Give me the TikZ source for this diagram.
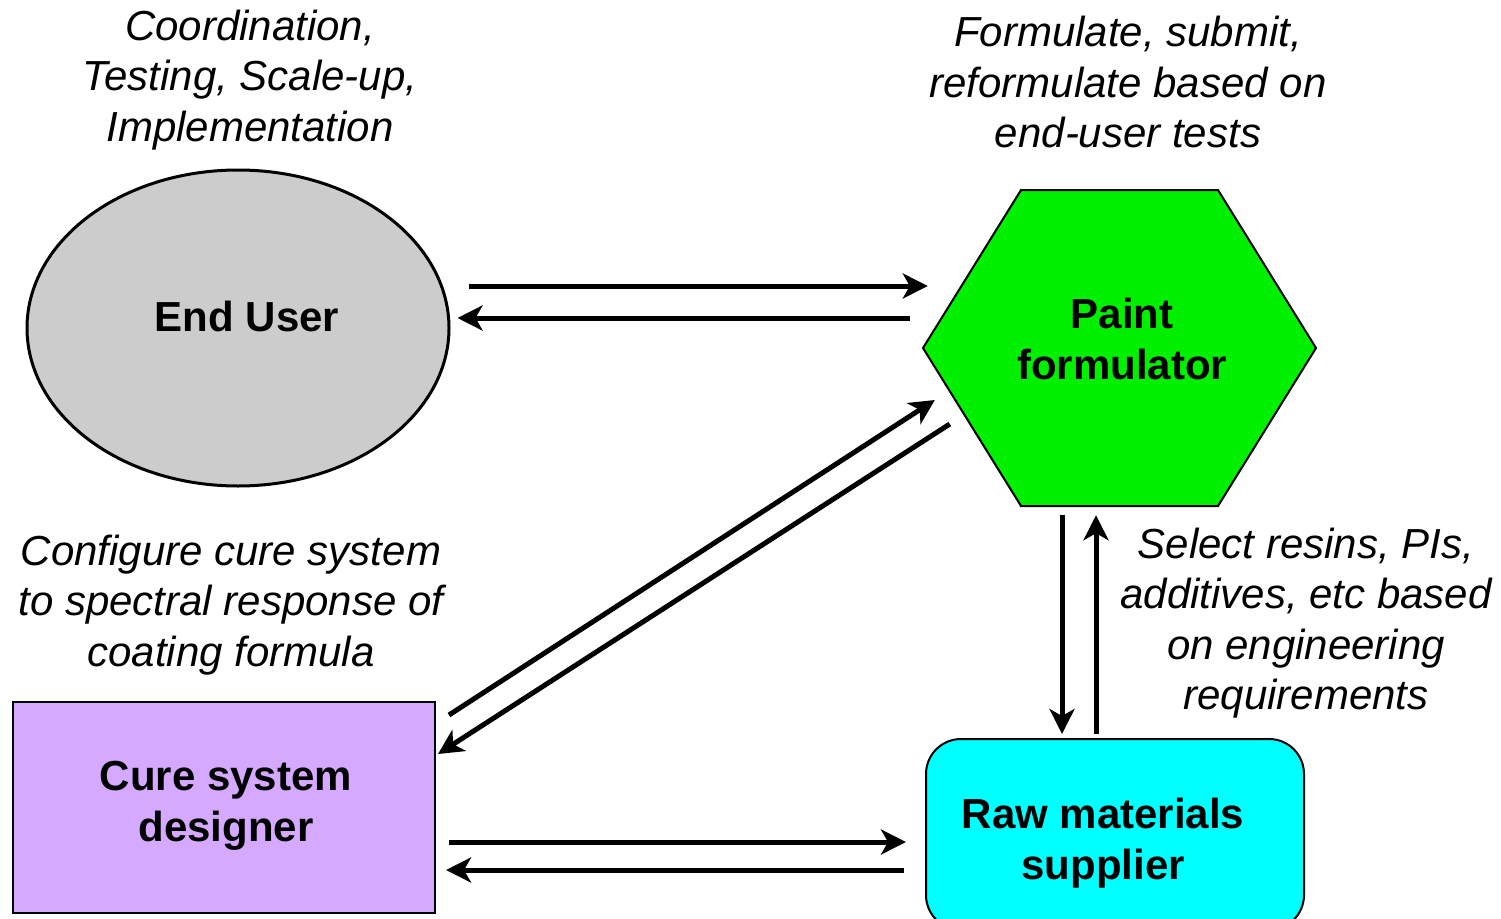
\documentclass[tikz,border=0pt]{standalone}
\usepackage{fontspec}
\setmainfont{Liberation Sans}
\usetikzlibrary{shapes.geometric,arrows.meta,calc}
\definecolor{eugray}{RGB}{204,204,204}
\definecolor{pfgreen}{RGB}{0,240,0}
\definecolor{cslav}{RGB}{213,169,255}
\definecolor{rmcyan}{RGB}{0,255,255}
\tikzset{
  arr/.style={line width=5pt,-{Stealth[length=25pt,width=25pt,inset=7pt]}},
  boldtxt/.style={font=\fontsize{42}{50.5}\selectfont\bfseries,align=center,inner sep=0pt},
  ittxt/.style={font=\fontsize{42}{50.5}\selectfont\itshape,align=center,inner sep=0pt},
}
\begin{document}
\begin{tikzpicture}[x=1pt,y=-1pt]
\useasboundingbox (0,0) rectangle (1501,918);
\clip (0,0) rectangle (1501,918);
% shapes
\node[ellipse,draw,line width=3pt,fill=eugray,minimum width=422pt,minimum height=316pt,inner sep=0pt] (eu) at (238,328) {};
\node[boldtxt] (eut) at (247,316) {End User};
\filldraw[line width=2pt,fill=pfgreen] (1021,190) -- (1218,190) -- (1316,348) -- (1218,506) -- (1021,506) -- (923,348) -- cycle;
\node[boldtxt,minimum width=393pt,minimum height=316pt] (pf) at (1119.5,348) {};
\node[boldtxt] (pft) at (1122,339) {Paint\\formulator};
\node[rectangle,draw,line width=2pt,fill=cslav,minimum width=422pt,minimum height=211pt,inner sep=0pt] (cs) at (224,807.5) {};
\node[boldtxt] (cst) at (226,806) {Cure system\\designer};
\node[rectangle,rounded corners=35pt,draw,line width=2pt,fill=rmcyan,minimum width=378pt,minimum height=191pt,inner sep=0pt] (rm) at (1115,834.5) {};
\node[boldtxt] (rmt) at (1103,843) {Raw materials\\supplier};
% annotations
\node[ittxt] (a1) at (250,80) {Coordination,\\Testing, Scale-up,\\Implementation};
\node[ittxt] (a2) at (1128,82) {Formulate, submit,\\reformulate based on\\end-user tests};
\node[ittxt] (a3) at (231,605) {Configure cure system\\to spectral response of\\coating formula};
\node[ittxt] (a4) at (1306,623) {Select resins, PIs,\\additives, etc based\\on engineering\\requirements};
% connectors
\draw[arr] ($(eu.east)+(18,-42)$) -- ($(pf.west)+(5,-62)$);
\draw[arr] ($(pf.west)+(-13,-30)$) -- ($(eu.east)+(7,-10)$);
\draw[arr] ($(cs.north east)+(13,14)$) -- ($(pf.west)+(12,52)$);
\draw[arr] ($(pf.west)+(27,76)$) -- ($(cs.north east)+(2,53)$);
\draw[arr] ($(pf.south)+(-57.5,9)$) -- ($(rm.north)+(-53,-4)$);
\draw[arr] ($(rm.north)+(-19,-4)$) -- ($(pf.south)+(-23.5,9)$);
\draw[arr] ($(cs.east)+(13,34.5)$) -- ($(rm.west)+(-19,7.5)$);
\draw[arr] ($(rm.west)+(-21,35.5)$) -- ($(cs.east)+(10,62.5)$);
\end{tikzpicture}
\end{document}
